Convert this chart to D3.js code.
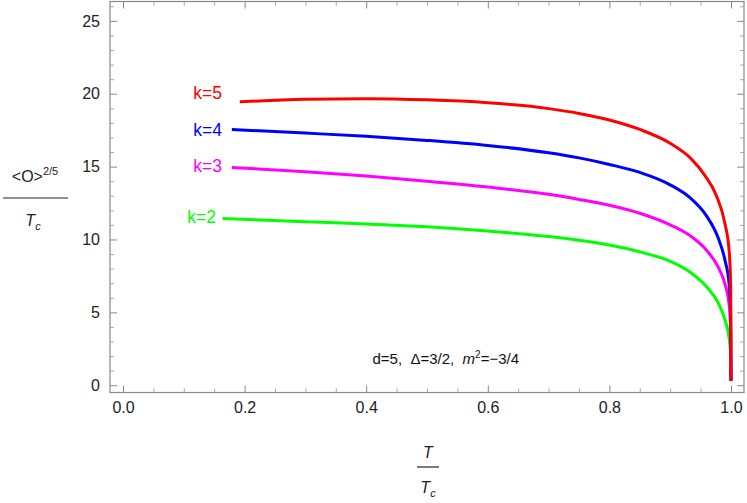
<!DOCTYPE html>
<html>
<head>
<meta charset="utf-8">
<script src="https://cdn.jsdelivr.net/npm/d3@7"></script>
<style>
body { margin: 0; background: #fff; }
svg { font-family: "Liberation Sans", Arial, sans-serif; }
</style>
</head>
<body>
<div id="chart"></div>
<script>
// curves, [T/Tc, <O>^(2/5)/Tc]
var k2 = [[0.164,11.44],[0.3,11.22],[0.4,11.07],[0.5,10.87],[0.6,10.58],[0.7,10.2],[0.75,9.95],[0.8,9.62],[0.85,9.15],[0.9,8.5],[0.933,7.75],[0.96,6.75],[0.979,5.65],[0.99,4.5],[0.997,3.2],[0.9995,2.0],[1.0,0.3]];
var k3 = [[0.179,14.94],[0.3,14.65],[0.4,14.35],[0.5,14.0],[0.6,13.6],[0.7,13.1],[0.75,12.75],[0.8,12.35],[0.85,11.8],[0.9,11.0],[0.933,10.25],[0.96,9.25],[0.979,8.1],[0.99,6.95],[0.997,5.5],[0.9995,3.6],[1.0,0.3]];
var k4 = [[0.179,17.55],[0.3,17.3],[0.4,17.08],[0.5,16.8],[0.6,16.45],[0.7,15.95],[0.75,15.6],[0.8,15.15],[0.85,14.6],[0.9,13.75],[0.933,12.85],[0.96,11.6],[0.979,10.1],[0.99,8.6],[0.997,6.9],[0.9995,4.8],[1.0,0.3]];
var k5 = [[0.192,19.45],[0.25,19.55],[0.3,19.62],[0.4,19.66],[0.5,19.58],[0.6,19.38],[0.7,18.98],[0.75,18.65],[0.8,18.2],[0.85,17.55],[0.9,16.6],[0.933,15.6],[0.957,14.4],[0.976,13.0],[0.99,11.1],[0.997,9.2],[0.9995,6.8],[1.0,0.3]];

var seriesData = [k2, k3, k4, k5];
var seriesNames = ["k=2", "k=3", "k=4", "k=5"];
var seriesColors = ["#00ff00", "#ff00ff", "#0000ff", "#ff0000"];

var xTicks = [0, 0.2, 0.4, 0.6, 0.8, 1.0];
var yTicks = [0, 5, 10, 15, 20, 25];

//svg size
var svgWidth = 747;
var svgHeight = 503;

//plot frame
var frame = {left: 110, right: 744, top: 1.5, bottom: 392.5};

var svg = d3.select("#chart")
    .append("svg")
    .attr("width", svgWidth)
    .attr("height", svgHeight);

var x = d3.scaleLinear().domain([-0.0214, 1.0214]).range([frame.left, frame.right]);
var y = d3.scaleLinear().domain([-0.5, 26.33]).range([frame.bottom, frame.top]);

var xMinor = d3.range(0.05, 1.0, 0.05).filter(d => Math.abs(d / 0.2 - Math.round(d / 0.2)) > 1e-6);
var yMinor = d3.range(1, 27, 1).filter(d => d % 5 !== 0);

function styleAxis(g, color) {
    g.select(".domain").remove();
    g.selectAll(".tick line").attr("stroke", color);
    g.selectAll(".tick text")
        .attr("fill", "#222")
        .style("font-size", "16px");
}

//minor ticks on all four sides
svg.append("g").attr("transform", `translate(0,${frame.bottom})`)
    .call(d3.axisBottom(x).tickValues(xMinor).tickSize(-4).tickFormat(""))
    .call(g => styleAxis(g, "#aaa"));
svg.append("g").attr("transform", `translate(0,${frame.top})`)
    .call(d3.axisTop(x).tickValues(xMinor).tickSize(-4).tickFormat(""))
    .call(g => styleAxis(g, "#aaa"));
svg.append("g").attr("transform", `translate(${frame.left},0)`)
    .call(d3.axisLeft(y).tickValues(yMinor).tickSize(-4).tickFormat(""))
    .call(g => styleAxis(g, "#aaa"));
svg.append("g").attr("transform", `translate(${frame.right},0)`)
    .call(d3.axisRight(y).tickValues(yMinor).tickSize(-4).tickFormat(""))
    .call(g => styleAxis(g, "#aaa"));

//major ticks
svg.append("g").attr("transform", `translate(0,${frame.bottom})`)
    .call(d3.axisBottom(x).tickValues(xTicks).tickSize(-7).tickPadding(9).tickFormat(d3.format(".1f")))
    .call(g => styleAxis(g, "#888"));
svg.append("g").attr("transform", `translate(0,${frame.top})`)
    .call(d3.axisTop(x).tickValues(xTicks).tickSize(-7).tickFormat(""))
    .call(g => styleAxis(g, "#888"));
svg.append("g").attr("transform", `translate(${frame.left},0)`)
    .call(d3.axisLeft(y).tickValues(yTicks).tickSize(-7).tickPadding(10))
    .call(g => styleAxis(g, "#888"));
svg.append("g").attr("transform", `translate(${frame.right},0)`)
    .call(d3.axisRight(y).tickValues(yTicks).tickSize(-7).tickFormat(""))
    .call(g => styleAxis(g, "#888"));

//frame
svg.append("rect")
    .attr("x", frame.left)
    .attr("y", frame.top)
    .attr("width", frame.right - frame.left)
    .attr("height", frame.bottom - frame.top)
    .attr("fill", "none")
    .attr("stroke", "#888")
    .attr("stroke-width", 1.2);

svg.append("clipPath").attr("id", "clip")
    .append("rect")
    .attr("x", frame.left)
    .attr("y", frame.top)
    .attr("width", frame.right - frame.left)
    .attr("height", frame.bottom - frame.top);

var line = d3.line()
    .x(d => x(d[0]))
    .y(d => y(d[1]))
    .curve(d3.curveMonotoneX);

svg.append("g").attr("clip-path", "url(#clip)")
    .selectAll("path")
    .data(seriesData)
    .enter()
    .append("path")
    .attr("d", line)
    .attr("fill", "none")
    .attr("stroke", (d, i) => seriesColors[i])
    .attr("stroke-width", 3);

//curve labels
var labelPos = [[216, 223], [222, 172], [222, 136], [222, 99]];
svg.selectAll(".klabel")
    .data(seriesNames)
    .enter()
    .append("text")
    .attr("class", "klabel")
    .attr("x", (d, i) => labelPos[i][0])
    .attr("y", (d, i) => labelPos[i][1])
    .attr("text-anchor", "end")
    .attr("fill", (d, i) => seriesColors[i])
    .style("font-size", "17.5px")
    .text(d => d);

//parameter annotation
var note = svg.append("text")
    .attr("x", 519)
    .attr("y", 364)
    .attr("text-anchor", "end")
    .attr("fill", "#111")
    .style("font-size", "15px")
    .style("white-space", "pre");
note.append("tspan").text("d=5,  \u0394=3/2,  ");
note.append("tspan").style("font-style", "italic").text("m");
note.append("tspan").attr("dy", -6).style("font-size", "10px").text("2");
note.append("tspan").attr("dy", 6).text("=\u22123/4");

//y axis label (fraction)
var yl = svg.append("g").attr("fill", "#222").style("font-size", "16px");
var num = yl.append("text").attr("x", 35).attr("y", 182).attr("text-anchor", "middle");
num.append("tspan").text("<O>");
num.append("tspan").attr("dy", -7).style("font-size", "11px").text("2/5");
yl.append("line")
    .attr("x1", 3).attr("x2", 68)
    .attr("y1", 198).attr("y2", 198)
    .attr("stroke", "#222").attr("stroke-width", 1.2);
var den = yl.append("text").attr("x", 33).attr("y", 226).attr("text-anchor", "middle")
    .style("font-style", "italic");
den.append("tspan").text("T");
den.append("tspan").attr("dy", 4).style("font-size", "11px").text("c");

//x axis label (fraction)
var xl = svg.append("g").attr("fill", "#222").style("font-size", "16px");
xl.append("text").attr("x", 428).attr("y", 458).attr("text-anchor", "middle")
    .style("font-style", "italic").text("T");
xl.append("line")
    .attr("x1", 417).attr("x2", 439)
    .attr("y1", 467).attr("y2", 467)
    .attr("stroke", "#222").attr("stroke-width", 1.2);
var xden = xl.append("text").attr("x", 428).attr("y", 493).attr("text-anchor", "middle")
    .style("font-style", "italic");
xden.append("tspan").text("T");
xden.append("tspan").attr("dy", 4).style("font-size", "11px").text("c");
</script>
</body>
</html>
